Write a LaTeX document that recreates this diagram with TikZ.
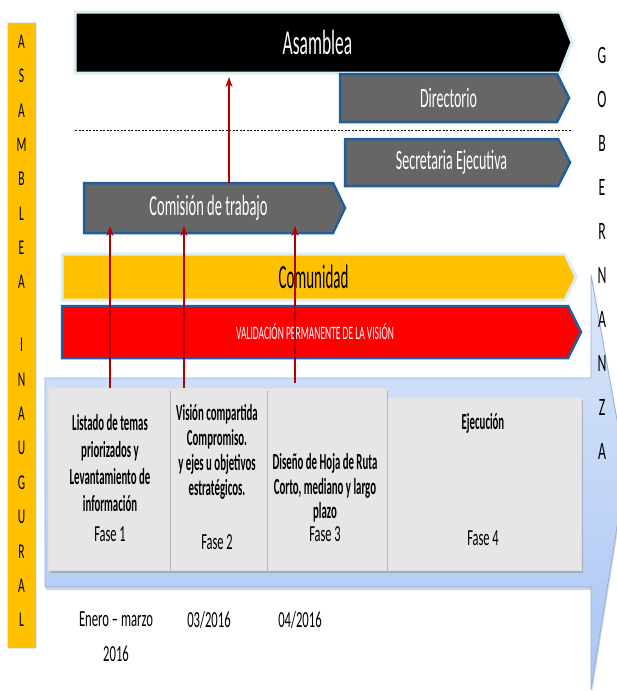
\documentclass[tikz,border=0pt]{standalone}
\usepackage{fontspec}
\setmainfont{Carlito}
\newfontfamily\cfr{Carlito}[FakeStretch=0.5]
\newfontfamily\cfn{Carlito}[FakeStretch=0.47]
\newfontfamily\cff{Carlito}[FakeStretch=0.54]
\newfontfamily\cfl{Carlito}[FakeStretch=0.55]
\newfontfamily\cfc{Carlito}[FakeStretch=0.44]
\usetikzlibrary{arrows.meta,shadows,backgrounds,calc}
\definecolor{amarillo}{HTML}{FFC000}
\definecolor{rojo}{HTML}{FF0000}
\definecolor{gris}{HTML}{666666}
\definecolor{azulborde}{HTML}{1F5F9F}
\definecolor{cian}{HTML}{DAEEF3}
\definecolor{fasegris}{HTML}{E6E6E6}
\definecolor{flechaarriba}{HTML}{DCE7FA}
\definecolor{flechaabajo}{HTML}{A9C5F4}
\definecolor{flechaborde}{HTML}{8DB3E2}
\definecolor{conector}{HTML}{B40000}
\newcommand\tagshape[3]{%
  \begin{scope}[on background layer]
    \path[#3] (#1.north west) -- (#1.north east) -- ([xshift=#2]#1.east)
      -- (#1.south east) -- (#1.south west) -- cycle;
  \end{scope}}
\begin{document}
\begin{tikzpicture}[x=1pt,y=-1pt,
  tagbox/.style={inner sep=0pt, outer sep=0pt},
  darktag/.style={fill=gris, draw=azulborde, line width=2.5pt, line join=miter},
  phasebox/.style={fill=fasegris, draw=black!12, line width=0.4pt,
    drop shadow={shadow xshift=1.5pt, shadow yshift=-2.5pt, fill=black!45, opacity=0.5}},
  ptext/.style={align=center, font=\cfn\bfseries\fontsize{23}{27.3}\selectfont, inner sep=0pt},
  fase/.style={font=\cff\fontsize{23}{26}\selectfont, inner sep=0pt, anchor=base},
  vlet/.style={align=center, inner sep=0pt},
  datelbl/.style={align=center, font=\cfl\fontsize{23}{35}\selectfont, inner sep=0pt},
  conn/.style={draw=conector, line width=1.8pt,
    -{Stealth[length=10pt, width=7pt, inset=3pt]}}]
\clip (0,0) rectangle (617,691);
\begin{scope}[on background layer]
\fill[white] (0,0) rectangle (617,691);
% big light-blue arrow
\path[top color=flechaarriba, bottom color=flechaabajo, draw=flechaborde, line width=0.8pt,
  drop shadow={shadow xshift=1pt, shadow yshift=-3pt, fill=black!40, opacity=0.4}]
  (45,378) -- (591,378) -- (591,275) -- (626,470) -- (591,690) -- (591,587) -- (45,587) -- cycle;
\end{scope}

% left bar
\node[fill=amarillo, draw=cian, line width=0.8pt, minimum width=29pt, minimum height=626pt, inner sep=0pt] (bar) at (21.5,335) {};
\node[vlet, font=\cfl\fontsize{21}{34.3}\selectfont] (asl) at (bar.center |- 0,162) {A\\S\\A\\M\\B\\L\\E\\A};
\node[vlet, font=\cfl\fontsize{21}{34.4}\selectfont] (inl) at (bar.center |- 0,482.5) {I\\N\\A\\U\\G\\U\\R\\A\\L};

% top tags
\node[tagbox, minimum width=485pt, minimum height=61pt, text=white, font=\cfr\fontsize{35}{40}\selectfont] (asam) at (317.5,42.5) {Asamblea};
\tagshape{asam}{12pt}{fill=black, draw=cian, line width=3pt}
\node[tagbox, minimum width=217pt, minimum height=48pt, text=white, font=\cfr\fontsize{28}{32}\selectfont] (dir) at (448.5,98) {Directorio};
\tagshape{dir}{12pt}{darktag}
\coordinate (dl) at (75,130);
\coordinate (dr) at (572,130);
\draw[black, line width=0.7pt, dash pattern=on 2pt off 1.5pt] (dl) -- (dr);
\node[tagbox, minimum width=213pt, minimum height=47pt, text=white, font=\cfr\fontsize{28}{32}\selectfont] (sec) at (451.5,162.5) {Secretaria Ejecutiva};
\tagshape{sec}{12pt}{darktag}
\node[tagbox, minimum width=249pt, minimum height=50pt, text=white, font=\cfr\fontsize{29}{32}\selectfont] (com) at (208.5,208) {Comisión de trabajo};
\tagshape{com}{12pt}{darktag}
\node[tagbox, minimum width=503pt, minimum height=46pt, text=black, font=\cfc\fontsize{34}{38}\selectfont] (comu) at (313.5,277) {Comunidad};
\tagshape{comu}{11pt}{fill=amarillo, draw=cian, line width=3pt}
\node[tagbox, minimum width=506pt, minimum height=52pt, text=white, font=\cfr\fontsize{19}{22}\selectfont] (val) at (315,332) {VALIDACIÓN PERMANENTE DE LA VISIÓN};
\tagshape{val}{13pt}{fill=rojo, draw=azulborde, line width=2.5pt}

% GOBERNANZA
\node[vlet, font=\cfl\fontsize{25}{44}\selectfont] (gob) at (602,253) {G\\O\\B\\E\\R\\N\\A\\N\\Z\\A};

% phase boxes
\node[phasebox, minimum width=195pt, minimum height=173pt, inner sep=0pt] (p4) at (483.5,483.5) {};
\node[phasebox, minimum width=120pt, minimum height=182pt, inner sep=0pt] (p3) at (326,479) {};
\node[phasebox, minimum width=97pt, minimum height=182pt, inner sep=0pt] (p2) at (217.5,479) {};
\node[phasebox, minimum width=121pt, minimum height=182pt, inner sep=0pt] (p1) at (108.5,479) {};

\node[ptext] (t1) at (110,463) {Listado de temas\\priorizados y\\Levantamiento de\\información};
\node[ptext, font=\cfn\bfseries\fontsize{23}{25}\selectfont] (t2) at (217,452) {Visión compartida\\Compromiso.\\y ejes u objetivos\\estratégicos.};
\node[ptext, font=\cfn\bfseries\fontsize{23}{24.5}\selectfont] (t3) at (325,488) {Diseño de Hoja de Ruta\\Corto, mediano y largo\\plazo};
\node[ptext, anchor=base] (t4) at (483,429) {Ejecución};
\node[fase] (f1) at (110,541) {Fase 1};
\node[fase] (f2) at (217,549) {Fase 2};
\node[fase] (f3) at (325,541) {Fase 3};
\node[fase] (f4) at (483,545) {Fase 4};

% dates
\node[datelbl] (d1) at (116,637) {Enero – marzo\\2016};
\node[datelbl, anchor=base] (d2) at (209,627) {03/2016};
\node[datelbl, anchor=base] (d3) at (300,627) {04/2016};

% connectors
\draw[conn, shorten >=4pt] ([xshift=20.5pt]com.north) -- ([xshift=20.5pt]com.north |- asam.south);
\draw[conn, shorten >=-7pt] ([xshift=1.5pt]p1.north) -- ([xshift=1.5pt]p1.north |- com.south);
\draw[conn, shorten >=-7pt] ([xshift=-33.5pt]p2.north) -- ([xshift=-33.5pt]p2.north |- com.south);
\draw[conn, shorten >=-7pt] ([xshift=-31pt, yshift=5pt]p3.north) -- ([xshift=-31pt]p3.north |- com.south);
\end{tikzpicture}
\end{document}
